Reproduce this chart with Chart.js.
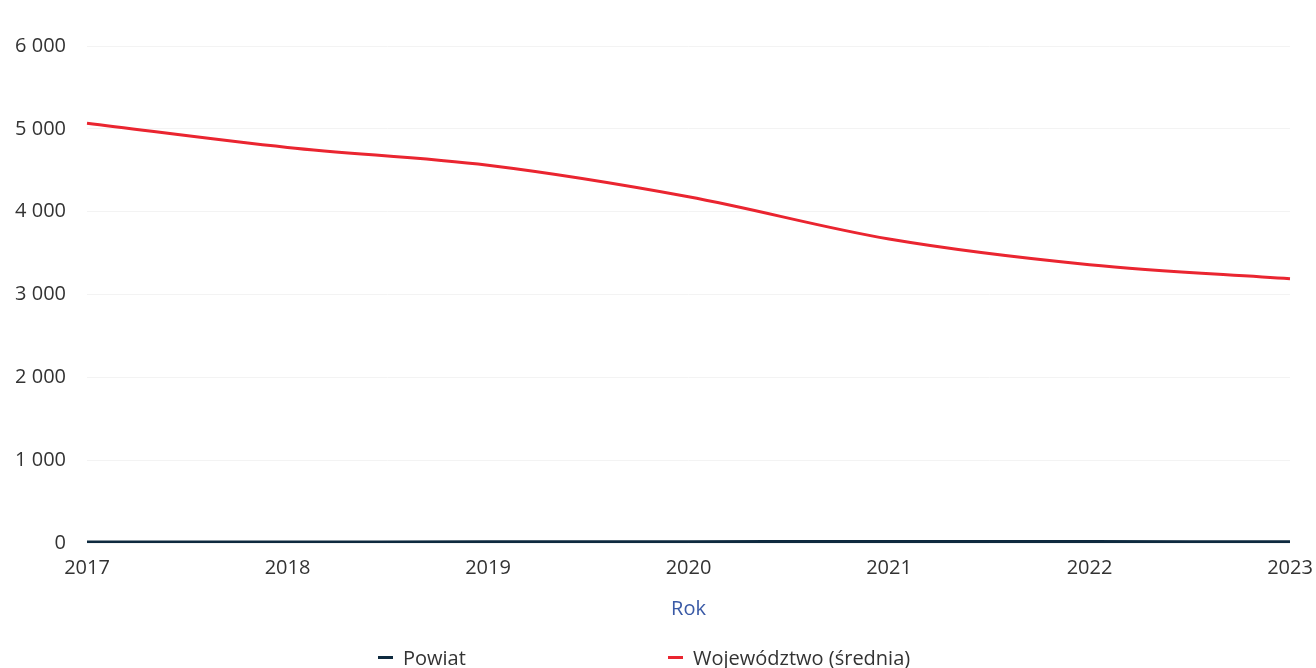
<!DOCTYPE html>
<html>
<head>
<meta charset="utf-8">
<script src="https://cdn.jsdelivr.net/npm/chart.js@4.4.1/dist/chart.umd.min.js"></script>
<style>
html,body{margin:0;padding:0;background:#fff;}
#wrap{position:relative;width:1316px;height:668px;}
.lg{position:absolute;top:645px;height:24px;display:flex;align-items:center;font-family:"Open Sans",sans-serif;font-size:20px;color:#333;white-space:nowrap;}
.lg i{display:inline-block;width:15px;height:3px;margin-right:10px;}
</style>
</head>
<body>
<div id="wrap"><canvas id="c" width="1316" height="668"></canvas>
<div id="legend"></div></div>
<script>
const years = ['2017','2018','2019','2020','2021','2022','2023'];
const powiat = [12, 13, 14, 16, 18, 17, 16];
const wojewodztwo = [5067, 4775, 4560, 4180, 3670, 3360, 3190];
const yTicks = [0, 1000, 2000, 3000, 4000, 5000, 6000];
const seriesNames = ['Powiat', 'Województwo (średnia)'];
const colors = ['#0e2a3f', '#ea2530'];
const legendX = [378, 668];

const fontFamily = '"Open Sans", sans-serif';

const chart = new Chart(document.getElementById('c'), {
  type: 'line',
  data: {
    labels: years,
    datasets: [
      { label: seriesNames[0], data: powiat, borderColor: colors[0], backgroundColor: colors[0], borderWidth: 3, pointRadius: 0, tension: 0.4, cubicInterpolationMode: 'monotone' },
      { label: seriesNames[1], data: wojewodztwo, borderColor: colors[1], backgroundColor: colors[1], borderWidth: 3, pointRadius: 0, tension: 0.4, cubicInterpolationMode: 'monotone' }
    ]
  },
  options: {
    responsive: false,
    animation: false,
    layout: { padding: { top: 46, left: 14, right: 26, bottom: 47 } },
    scales: {
      x: {
        offset: false,
        afterFit: (s) => { s.paddingRight = 0; },
        grid: { display: false, drawTicks: false },
        border: { display: false },
        ticks: { color: '#333', font: { family: fontFamily, size: 20 }, padding: 13, maxRotation: 0 },
        title: { display: true, text: 'Rok', color: '#3a5aa6', font: { family: fontFamily, size: 20 }, padding: { top: 4, bottom: 0 } }
      },
      y: {
        min: 0, max: 6000,
        afterBuildTicks: (axis) => { axis.ticks = yTicks.map(v => ({ value: v })); },
        afterFit: (s) => { s.width = 73; },
        grid: { color: '#f3f3f3', drawTicks: false },
        border: { display: false },
        ticks: {
          color: '#333', font: { family: fontFamily, size: 20 }, padding: 21,
          callback: (v) => String(v).replace(/\B(?=(\d{3})+(?!\d))/g, ' ')
        }
      }
    },
    plugins: {
      legend: { display: false },
      tooltip: { enabled: false }
    }
  }
});

const lg = document.getElementById('legend');
chart.data.datasets.forEach((ds, i) => {
  const d = document.createElement('div');
  d.className = 'lg';
  d.style.left = legendX[i] + 'px';
  const m = document.createElement('i');
  m.style.background = ds.borderColor;
  d.appendChild(m);
  d.appendChild(document.createTextNode(ds.label));
  lg.appendChild(d);
});
</script>
</body>
</html>
